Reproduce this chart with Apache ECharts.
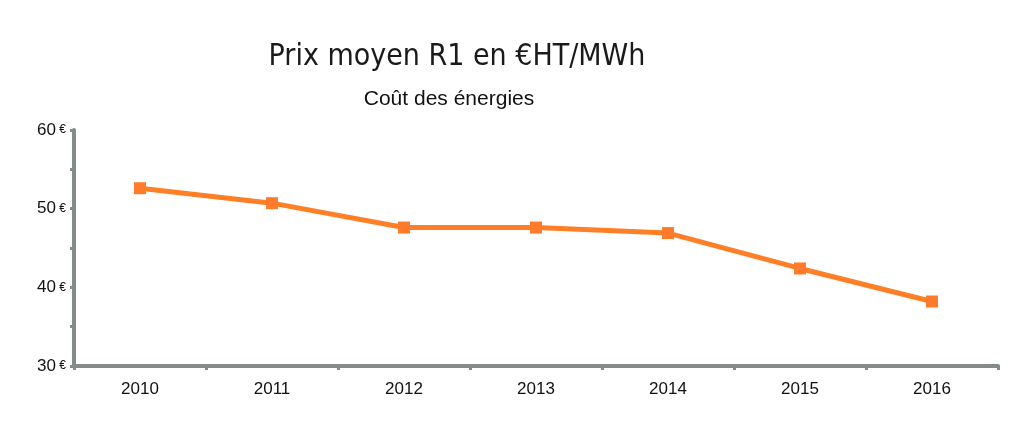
<!DOCTYPE html>
<html><head><meta charset="utf-8">
<script src="https://cdn.jsdelivr.net/npm/echarts@6/dist/echarts.min.js"></script>
<style>html,body{margin:0;padding:0;background:#fff}#c{width:1022px;height:423px}</style>
</head><body><div id="c"></div>
<script>
const years = ['2010','2011','2012','2013','2014','2015','2016'];
const prices = [52.6, 50.7, 47.6, 47.6, 46.9, 42.4, 38.2];
const yMin = 30, yMax = 60, yStep = 5;
const titleText = 'Prix moyen R1 en €HT/MWh';
const subtitleText = 'Coût des énergies';

const chart = echarts.init(document.getElementById('c'));
chart.setOption({
  animation: false,
  title: [
    {text: titleText, left: 452, top: 37, textAlign: 'center',
     textStyle: {fontFamily: 'DejaVu Sans Condensed, Liberation Sans Narrow, sans-serif', fontSize: 30, fontWeight: 'normal', color: '#1a1a1a'}},
    {text: subtitleText, left: 444, top: 84, textAlign: 'center',
     textStyle: {fontFamily: 'Liberation Sans, Arial, sans-serif', fontSize: 21, fontWeight: 'normal', color: '#111'}}
  ],
  grid: {left: 74, right: 24, top: 130, bottom: 57},
  xAxis: {
    type: 'category', data: years, boundaryGap: true,
    axisLine: {lineStyle: {color: '#838c8a', width: 4}},
    axisTick: {show: true, length: 4, lineStyle: {color: '#838c8a', width: 3}},
    axisLabel: {margin: 15, fontFamily: 'Liberation Sans, Arial, sans-serif', fontSize: 17, color: '#111'}
  },
  yAxis: {
    type: 'value', min: yMin, max: yMax, interval: yStep,
    axisLine: {show: true, lineStyle: {color: '#838c8a', width: 4}},
    axisTick: {show: true, length: 4, lineStyle: {color: '#838c8a', width: 3}},
    splitLine: {show: false},
    axisLabel: {
      margin: 8,
      formatter: v => v % 10 === 0 ? '{n|' + v + '} {e|€}' : '',
      rich: {
        n: {fontFamily: 'Liberation Sans, Arial, sans-serif', fontSize: 17, color: '#111'},
        e: {fontFamily: 'Liberation Sans, Arial, sans-serif', fontSize: 12, color: '#111'}
      }
    }
  },
  series: [{
    type: 'line', data: prices,
    symbol: 'rect', symbolSize: 12,
    lineStyle: {color: '#ff7f27', width: 5},
    itemStyle: {color: '#ff7a2a'}
  }]
});
</script></body></html>
